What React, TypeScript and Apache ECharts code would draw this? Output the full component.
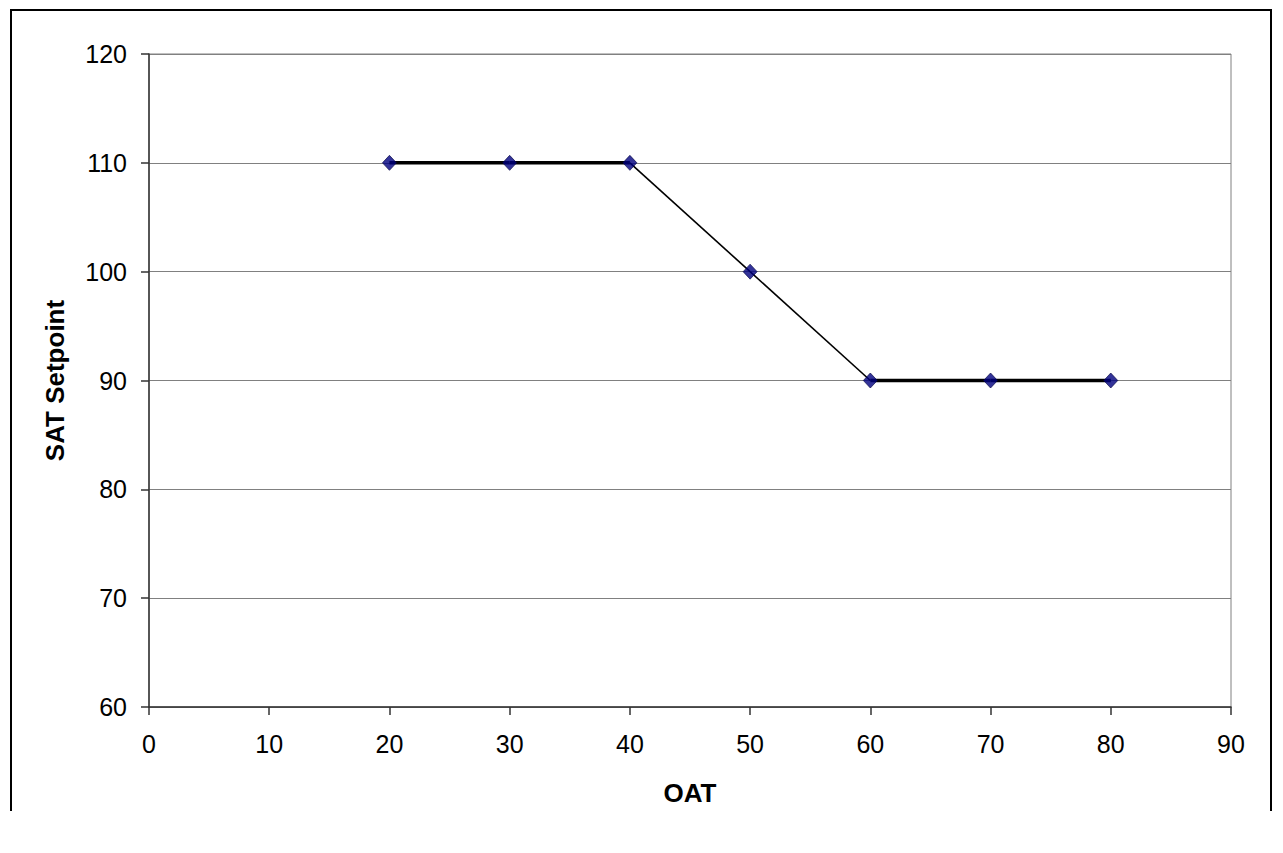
import React, { useEffect, useRef } from "react";
import * as echarts from "echarts";

const oat = [20, 30, 40, 50, 60, 70, 80];
const satSetpoint = [110, 110, 110, 100, 90, 90, 90];
const xTicks = [0, 10, 20, 30, 40, 50, 60, 70, 80, 90];
const yTicks = [60, 70, 80, 90, 100, 110, 120];

export default function App() {
  const ref = useRef<HTMLDivElement>(null);
  useEffect(() => {
    if (!ref.current) return;
    const chart = echarts.init(ref.current, undefined, { renderer: "svg" });
    const points = oat.map((x, i) => [x, satSetpoint[i]]);
    const segs: any[] = [];
    for (let i = 0; i < points.length - 1; i++) {
      const flat = points[i][1] === points[i + 1][1];
      segs.push({
        type: "line",
        data: [points[i], points[i + 1]],
        symbol: "none",
        lineStyle: { color: "#000", width: flat ? 3.5 : 1.6 },
        z: 2,
        silent: true,
      });
    }
    const font = "'Liberation Sans', Arial, sans-serif";
    chart.setOption({
      animation: false,
      backgroundColor: "#fff",
      grid: {
        left: 149,
        right: 52,
        top: 54,
        bottom: 146,
        show: true,
        borderColor: "#808080",
        borderWidth: 1,
        backgroundColor: "transparent",
      },
      xAxis: {
        type: "value",
        min: xTicks[0],
        max: xTicks[xTicks.length - 1],
        interval: 10,
        name: "OAT",
        nameLocation: "middle",
        nameGap: 73,
        nameTextStyle: { fontFamily: font, fontSize: 26, fontWeight: "bold", color: "#000" },
        axisLine: { show: true, onZero: false, lineStyle: { color: "#333", width: 1.5 } },
        axisTick: { show: true, length: 8, lineStyle: { color: "#333", width: 1.5 } },
        axisLabel: { fontFamily: font, fontSize: 25, color: "#000", margin: 24 },
        splitLine: { show: false },
      },
      yAxis: {
        type: "value",
        min: yTicks[0],
        max: yTicks[yTicks.length - 1],
        interval: 10,
        name: "SAT Setpoint",
        nameLocation: "middle",
        nameGap: 81,
        nameRotate: 90,
        nameTextStyle: { fontFamily: font, fontSize: 26, fontWeight: "bold", color: "#000" },
        axisLine: { show: true, onZero: false, lineStyle: { color: "#333", width: 1.5 } },
        axisTick: { show: true, length: 8, lineStyle: { color: "#333", width: 1.5 } },
        axisLabel: { fontFamily: font, fontSize: 25, color: "#000", margin: 22 },
        splitLine: { show: true, lineStyle: { color: "#808080", width: 1 } },
      },
      series: [
        ...segs,
        {
          type: "scatter",
          data: points,
          symbol: "diamond",
          symbolSize: [14, 15],
          itemStyle: { color: "#000080", borderColor: "#000040", borderWidth: 0.8 },
          z: 3,
        },
      ],
      graphic: [
        {
          type: "polyline",
          shape: { points: [[11, 811], [11, 10], [1271, 10], [1271, 811]] },
          style: { stroke: "#000", lineWidth: 2, fill: "none" },
          silent: true,
        },
      ],
    });
    return () => chart.dispose();
  }, []);
  return (
    <div
      ref={ref}
      style={{ position: "fixed", left: 0, top: 0, width: 1283, height: 853 }}
    />
  );
}
